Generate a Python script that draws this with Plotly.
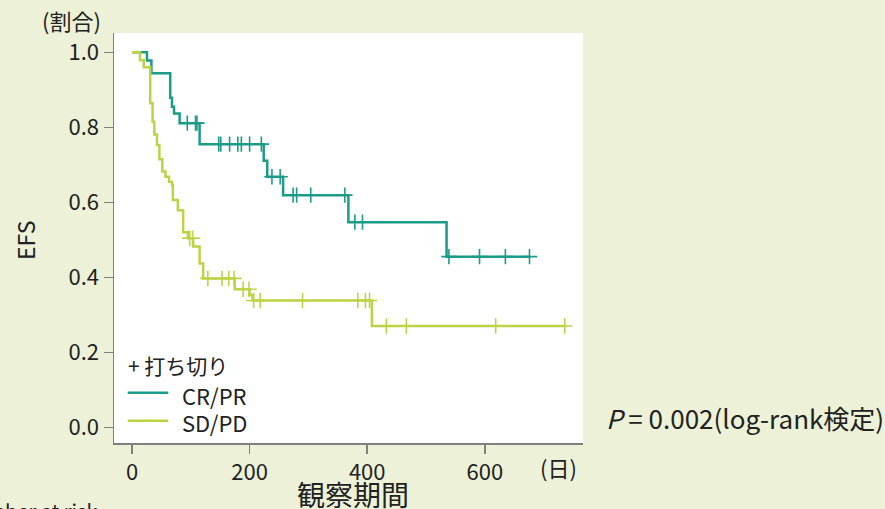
import numpy as np
import plotly.graph_objects as go

# ---- data ----
cr_times = [0, 25.5, 33, 65, 68, 71.5, 81, 115, 224, 230, 257, 368, 535]
cr_surv = [1.0, 0.978, 0.944, 0.879, 0.855, 0.837, 0.811, 0.755, 0.711, 0.668, 0.619, 0.547, 0.455]
cr_censor = [94, 108, 110.5, 147.5, 151, 166, 180, 186, 200, 220, 238, 252, 274, 280,
             304, 362, 379, 392, 539, 591, 635, 676]

sd_times = [0, 13.6, 20, 31, 35, 38, 42.5, 46.6, 51.6, 57, 63, 68, 69.5, 78, 87, 95,
            104, 115, 121, 174.7, 200, 205, 408]
sd_surv = [1.0, 0.979, 0.96, 0.864, 0.815, 0.781, 0.753, 0.715, 0.682, 0.668, 0.655, 0.646,
           0.606, 0.579, 0.52, 0.504, 0.482, 0.437, 0.397, 0.368, 0.353, 0.338, 0.27]
sd_censor = [98, 103, 129, 153, 164.5, 173.5, 189, 199, 207, 218, 290, 384, 397, 404,
             432.6, 466.6, 618.5, 736]

x_ticks = [0, 200, 400, 600]
y_ticks = [0.0, 0.2, 0.4, 0.6, 0.8, 1.0]

TEAL = "#1b9c88"
LIME = "#bfd246"
BG = "#ECF1D8"
FONT = "Noto Sans CJK JP"
TXT = "#222222"
AX = "#808080"


def step_series(times, surv, censor):
    x = list(times) + [max(censor)]
    y = list(surv) + [surv[-1]]
    t = np.array(times)
    idx = np.searchsorted(t, np.array(censor), side="right") - 1
    cy = [surv[i] for i in idx]
    return x, y, cy


fig = go.Figure()
for name, times, surv, cens, col in [
    ("CR/PR", cr_times, cr_surv, cr_censor, TEAL),
    ("SD/PD", sd_times, sd_surv, sd_censor, LIME),
]:
    x, y, cy = step_series(times, surv, cens)
    fig.add_trace(go.Scatter(x=x, y=y, mode="lines", line=dict(color=col, width=2.5, shape="hv"),
                             name=name, showlegend=False, hoverinfo="skip"))
    fig.add_trace(go.Scatter(x=cens, y=cy, mode="markers",
                             marker=dict(symbol="cross-thin", size=11, line=dict(color=col, width=1.6)),
                             showlegend=False, hoverinfo="skip"))

axis_common = dict(showgrid=False, zeroline=False, showline=True, linecolor=AX, linewidth=1.5,
                   ticks="outside", ticklen=9, tickwidth=1.5, tickcolor=AX,
                   tickfont=dict(family=FONT, size=22, color=TXT))

fig.update_xaxes(range=[-30.6, 767], tickvals=x_ticks, **axis_common)
fig.update_yaxes(range=[-0.042, 1.0515], tickvals=y_ticks, tickformat=".1f", **axis_common)

W, H, L, T = 469.0, 410.0, 114.0, 33.0


def px(xp):
    return (xp - L) / W


def py(yp):
    return (T + H - yp) / H


ann = []


def add_text(text, x, y, size, xanchor="center", yanchor="middle", angle=0):
    ann.append(dict(text=text, x=px(x), y=py(y), xref="paper", yref="paper", showarrow=False,
                    xanchor=xanchor, yanchor=yanchor, textangle=angle,
                    font=dict(family=FONT, size=size, color=TXT)))


add_text("(割合)", 71, 20, 22)
add_text("EFS", 25, 241, 23, angle=-90)
add_text("(日)", 558, 467, 22)
add_text("観察期間", 353, 494, 28)
add_text("<i>P</i> = 0.002(log-rank検定)", 604, 417, 26, xanchor="left")
add_text("+ 打ち切り", 126, 365, 21, xanchor="left")
add_text("CR/PR", 180, 395, 22, xanchor="left")
add_text("SD/PD", 180, 422, 22, xanchor="left")
add_text("Number at risk", 99, 511, 20, xanchor="right")

shapes = []
for yy, col in [(392.7, TEAL), (420.7, LIME)]:
    shapes.append(dict(type="line", xref="paper", yref="paper", x0=px(127.7), x1=px(168.3),
                       y0=py(yy), y1=py(yy), line=dict(color=col, width=2.5)))

fig.update_layout(width=885, height=509, margin=dict(l=114, r=302, t=33, b=66),
                  paper_bgcolor=BG, plot_bgcolor="white", annotations=ann, shapes=shapes,
                  font=dict(family=FONT, color=TXT), showlegend=False)

fig.write_html("out.html", config={"displayModeBar": False, "staticPlot": True},
               post_script="document.body.style.margin='0';document.body.style.padding='0';"
                           "document.body.style.overflow='hidden';")
